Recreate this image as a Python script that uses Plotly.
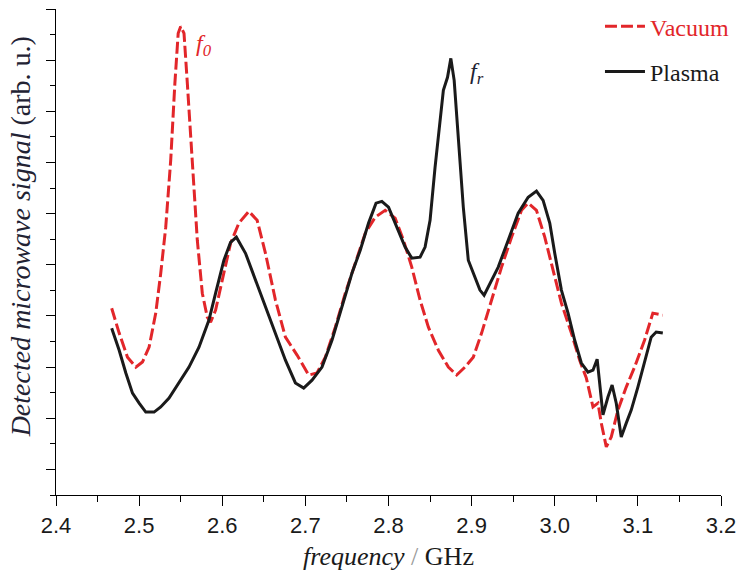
import plotly.graph_objects as go

# ---- data ----
vac_freq = [2.467, 2.476, 2.486, 2.496, 2.504, 2.512, 2.520, 2.526, 2.532, 2.538, 2.543, 2.547,
            2.550, 2.554, 2.558, 2.564, 2.570, 2.576, 2.582, 2.586, 2.592, 2.600, 2.610, 2.620,
            2.632, 2.642, 2.652, 2.664, 2.676, 2.690, 2.704, 2.714, 2.724, 2.736, 2.748, 2.760,
            2.772, 2.784, 2.796, 2.808, 2.818, 2.828, 2.838, 2.848, 2.860, 2.872, 2.882, 2.892,
            2.902, 2.912, 2.924, 2.936, 2.948, 2.960, 2.968, 2.978, 2.988, 2.998, 3.008, 3.020,
            3.030, 3.038, 3.046, 3.052, 3.056, 3.062, 3.068, 3.076, 3.086, 3.096, 3.108, 3.118,
            3.130]
vac_signal = [7.30, 6.33, 5.39, 5.00, 5.20, 5.78, 7.11, 8.67, 10.47, 13.09, 16.09, 18.05,
              18.32, 18.05, 16.09, 12.81, 9.96, 7.89, 6.95, 6.76, 7.23, 8.40, 9.84, 10.63,
              11.09, 10.74, 9.45, 7.62, 6.17, 5.47, 4.69, 4.77, 5.39, 6.56, 7.89, 9.06,
              10.23, 10.86, 11.13, 10.82, 9.96, 8.91, 7.62, 6.56, 5.66, 5.00, 4.69, 5.00,
              5.39, 6.33, 7.62, 8.91, 10.08, 11.13, 11.41, 11.13, 10.08, 8.79, 7.50, 6.33,
              5.27, 4.57, 3.44, 3.59, 2.81, 1.88, 2.27, 3.32, 4.22, 5.00, 6.05, 7.11,
              7.03]

pla_freq = [2.467, 2.476, 2.484, 2.492, 2.500, 2.508, 2.518, 2.526, 2.536, 2.548, 2.560, 2.572,
            2.584, 2.592, 2.602, 2.610, 2.617, 2.628, 2.640, 2.652, 2.664, 2.676, 2.688, 2.698,
            2.708, 2.720, 2.732, 2.744, 2.756, 2.766, 2.776, 2.785, 2.792, 2.800, 2.810, 2.820,
            2.828, 2.838, 2.844, 2.850, 2.856, 2.862, 2.866, 2.871, 2.875, 2.879, 2.884, 2.890,
            2.896, 2.904, 2.910, 2.915, 2.922, 2.932, 2.944, 2.956, 2.968, 2.978, 2.986, 2.994,
            3.000, 3.008, 3.016, 3.024, 3.032, 3.040, 3.046, 3.051, 3.054, 3.058, 3.064, 3.069,
            3.074, 3.080, 3.086, 3.092, 3.100, 3.108, 3.116, 3.122, 3.130]
pla_signal = [6.52, 5.66, 4.77, 3.98, 3.59, 3.24, 3.24, 3.44, 3.79, 4.38, 5.00, 5.78,
              6.84, 7.89, 9.18, 9.88, 10.08, 9.45, 8.40, 7.34, 6.33, 5.27, 4.38, 4.18,
              4.49, 5.00, 6.05, 7.34, 8.67, 9.57, 10.63, 11.41, 11.48, 11.25, 10.47, 9.69,
              9.26, 9.30, 9.69, 10.74, 12.81, 14.53, 15.82, 16.33, 17.07, 16.21, 13.87, 11.25,
              9.18, 8.52, 8.01, 7.81, 8.28, 8.91, 9.96, 11.02, 11.64, 11.88, 11.52, 10.63,
              9.45, 8.01, 7.11, 6.05, 5.16, 4.80, 4.88, 5.31, 4.38, 3.13, 3.83, 4.30,
              3.59, 2.27, 2.81, 3.32, 4.22, 5.16, 6.17, 6.37, 6.33]

x_ticks = [2.4, 2.5, 2.6, 2.7, 2.8, 2.9, 3.0, 3.1, 3.2]
x_labels = ["2.4", "2.5", "2.6", "2.7", "2.8", "2.9", "3.0", "3.1", "3.2"]

f0_pos = (2.578, 17.6)
fr_pos = (2.906, 16.5)

RED = "#e2262a"
BLACK = "#1a1a1a"
SERIF = "Liberation Serif, Times New Roman, serif"
SANS = "Liberation Sans, Arial, sans-serif"

fig = go.Figure()
fig.add_trace(go.Scatter(x=vac_freq, y=vac_signal, mode="lines",
                         name=f"<span style='color:{RED}'>Vacuum</span>",
                         legendgroup="a",
                         line=dict(color=RED, width=3, dash="12px,4px")))
fig.add_trace(go.Scatter(x=pla_freq, y=pla_signal, mode="lines", name="Plasma",
                         legendgroup="b",
                         line=dict(color=BLACK, width=3)))

fig.add_annotation(x=f0_pos[0], y=f0_pos[1], xref="x", yref="y", showarrow=False,
                   text="<i>f<sub>0</sub></i>", font=dict(family=SERIF, size=24, color=RED))
fig.add_annotation(x=fr_pos[0], y=fr_pos[1], xref="x", yref="y", showarrow=False,
                   text="<i>f<sub>r</sub></i>", font=dict(family=SERIF, size=24, color="#222233"))

# y-axis title (placed as rotated text beside the axis)
fig.add_annotation(x=-0.052, y=0.531, xref="paper", yref="paper", showarrow=False,
                   textangle=-90, xanchor="center", yanchor="middle",
                   text="<i>Detected microwave signal</i> (arb. u.)",
                   font=dict(family=SERIF, size=28, color="#222233"))

fig.update_layout(
    width=737, height=576,
    margin=dict(l=56, r=16, t=9, b=81, autoexpand=False),
    paper_bgcolor="white", plot_bgcolor="white",
    showlegend=True,
    legend=dict(x=0.818, y=1.01, xanchor="left", yanchor="top",
                font=dict(family=SERIF, size=24, color=BLACK),
                bgcolor="rgba(0,0,0,0)", tracegroupgap=11, itemwidth=40),
    xaxis=dict(range=[2.4, 3.2], tickvals=x_ticks, ticktext=x_labels, automargin=False,
               ticklabeloverflow="allow",
               showline=True, linecolor="black", linewidth=1.2,
               ticks="outside", ticklen=10, tickcolor="black", tickwidth=1,
               minor=dict(dtick=0.05, tick0=2.4, ticks="outside", ticklen=6, tickcolor="black"),
               showgrid=False, zeroline=False,
               tickfont=dict(family=SANS, size=22, color=BLACK),
               title=dict(text="<i>frequency</i> <span style='color:#999'>/</span> GHz",
                          font=dict(family=SERIF, size=26, color=BLACK), standoff=10)),
    yaxis=dict(range=[0, 19], tick0=1, dtick=2, showticklabels=False, automargin=False,
               showline=True, linecolor="black", linewidth=1.2,
               ticks="outside", ticklen=9, tickcolor="black", tickwidth=1,
               minor=dict(dtick=1, tick0=0, ticks="outside", ticklen=5, tickcolor="black"),
               showgrid=False, zeroline=False),
)

fig.write_html("out.html", config={"displayModeBar": False},
               post_script="document.body.style.margin='0';")
